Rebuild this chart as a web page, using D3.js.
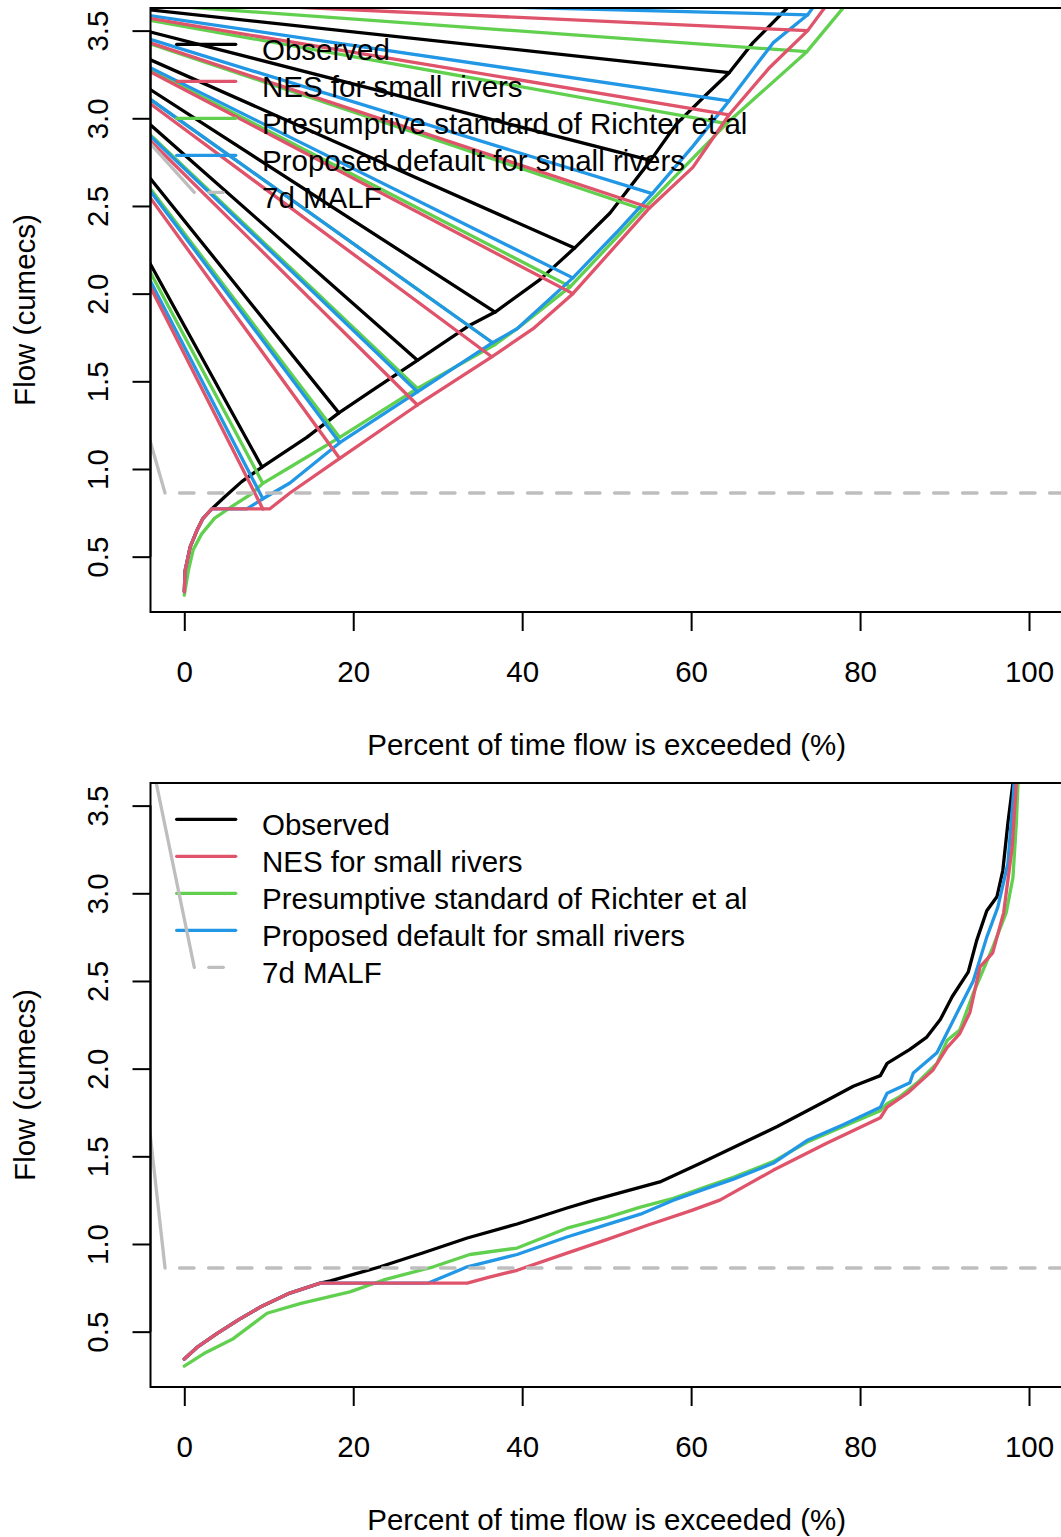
<!DOCTYPE html>
<html><head><meta charset="utf-8">
<script src="https://cdn.jsdelivr.net/npm/d3@7"></script>
<style>
html,body{margin:0;padding:0;background:#fff;}
svg{display:block;}
text{font-family:"Liberation Sans",Arial,Helvetica,sans-serif;fill:#000;}
</style>
</head><body>
<svg id="chart" width="1061" height="1537"></svg>
<script>
// ---------------- data ----------------
const xTicks = [0, 20, 40, 60, 80, 100];
const yTicks = [0.5, 1.0, 1.5, 2.0, 2.5, 3.0, 3.5];
const yTickLabels = ["0.5", "1.0", "1.5", "2.0", "2.5", "3.0", "3.5"];
const seriesNames = ["Observed", "NES for small rivers", "Presumptive standard of Richter et al", "Proposed default for small rivers", "7d MALF"];
const seriesColors = ["#000000", "#DF536B", "#61D04F", "#2297E6", "#BEBEBE"];
const xTitle = "Percent of time flow is exceeded (%)";
const yTitle = "Flow (cumecs)";
const malf = 0.863;
const spokeHub = [-21.6, 3.71];

// top panel curves
const topObserved = [[0,0.30],[0.1,0.42],[0.7,0.556],[1.5,0.65],[2.2,0.717],[3.25,0.772],[4.8,0.842],[6.8,0.928],[9.2,1.011],[14.5,1.18],[18.3,1.32],[22.3,1.45],[27.6,1.62],[33.8,1.82],[36.8,1.895],[42.1,2.08],[46.2,2.26],[50.4,2.46],[55.2,2.76],[58.3,2.97],[61.9,3.14],[64.5,3.26],[67.3,3.43],[71.4,3.63],[72.0,3.68]];
const topNES = [[0,0.30],[0.1,0.42],[0.7,0.556],[1.5,0.65],[2.2,0.717],[3.25,0.772],[10.1,0.772],[12.5,0.863],[18.4,1.06],[27.6,1.365],[36.4,1.64],[41.3,1.80],[46.0,2.00],[55.1,2.49],[60.2,2.72],[64.5,3.02],[69.3,3.29],[73.8,3.50],[75.8,3.63],[76.5,3.68]];
const topRichter = [[0,0.28],[0.5,0.425],[1.06,0.54],[2.06,0.63],[3.6,0.72],[5.6,0.785],[8.0,0.86],[9.3,0.918],[12.5,1.01],[18.4,1.18],[27.6,1.46],[36.8,1.71],[39.4,1.80],[45.7,2.04],[54.3,2.48],[64.2,2.97],[73.7,3.38],[78.0,3.63],[78.5,3.67]];
const topProposed = [[0,0.30],[0.1,0.42],[0.7,0.556],[1.5,0.65],[2.2,0.717],[3.25,0.772],[7.4,0.772],[9.3,0.83],[12.5,0.92],[18.4,1.15],[27.6,1.44],[36.5,1.72],[39.4,1.80],[46.0,2.09],[51.2,2.35],[55.4,2.57],[60.2,2.84],[64.5,3.10],[69.7,3.43],[73.8,3.59],[74.4,3.63],[75.0,3.68]];

// top panel spoke points (joined to the hub)
const topObservedSpokes = [[9.2,1.011],[18.3,1.32],[27.6,1.62],[36.8,1.895],[46.2,2.26],[55.2,2.76],[64.5,3.26]];
const topNESSpokes = [[9.3,0.772],[18.4,1.06],[27.6,1.365],[36.4,1.64],[46.0,2.00],[55.1,2.49],[64.5,3.02],[73.8,3.50]];
const topRichterSpokes = [[9.3,0.918],[18.4,1.18],[27.6,1.46],[36.8,1.71],[45.7,2.04],[54.3,2.48],[64.2,2.97],[73.7,3.38]];
const topProposedSpokes = [[9.3,0.83],[18.4,1.15],[27.6,1.44],[36.5,1.72],[46.0,2.09],[55.4,2.57],[64.5,3.10],[73.8,3.59]];

// bottom panel curves
const botObserved = [[0,0.344],[1.5,0.41],[3.9,0.49],[6.5,0.57],[9.0,0.64],[12.5,0.72],[16.1,0.777],[17.3,0.79],[23.2,0.87],[28.3,0.95],[33.5,1.034],[39.4,1.114],[45.3,1.205],[48.4,1.25],[56.3,1.354],[61.1,1.46],[65.0,1.55],[70.2,1.67],[76.1,1.82],[79.2,1.90],[82.4,1.96],[83.2,2.03],[85.9,2.11],[87.9,2.18],[89.5,2.28],[90.9,2.41],[92.8,2.55],[93.8,2.73],[95.0,2.90],[96.2,2.98],[96.9,3.13],[97.5,3.40],[98.1,3.63],[98.2,3.68]];
const botNES = [[0,0.344],[1.5,0.41],[3.9,0.49],[6.5,0.57],[9.0,0.64],[12.5,0.72],[16.1,0.777],[33.5,0.777],[36.0,0.81],[39.4,0.85],[45.3,0.948],[50,1.025],[55,1.11],[60,1.19],[63.4,1.25],[69.7,1.42],[76.1,1.576],[82.4,1.72],[83.2,1.78],[85.6,1.86],[88.6,1.99],[90.3,2.12],[91.8,2.20],[93.0,2.32],[94.2,2.58],[95.7,2.66],[97.0,2.89],[98.0,3.26],[98.5,3.63],[98.6,3.68]];
const botRichter = [[0,0.304],[2.5,0.38],[5.8,0.46],[9.8,0.605],[13.7,0.66],[19.6,0.727],[23.6,0.795],[29.5,0.87],[33.8,0.94],[39.4,0.977],[45.3,1.09],[50,1.15],[54,1.21],[57.9,1.26],[62,1.33],[65,1.38],[69.7,1.47],[73.7,1.58],[78,1.67],[82.4,1.76],[83.2,1.80],[84.7,1.84],[87,1.93],[89.1,2.03],[90.3,2.16],[91.8,2.22],[93.4,2.43],[95.7,2.69],[97.3,2.89],[98.1,3.09],[98.5,3.40],[98.7,3.63],[98.8,3.68]];
const botProposed = [[0,0.344],[1.5,0.41],[3.9,0.49],[6.5,0.57],[9.0,0.64],[12.5,0.72],[16.1,0.777],[28.9,0.777],[33.5,0.87],[39.4,0.94],[45.3,1.04],[50,1.11],[54,1.17],[57.9,1.25],[62,1.32],[65,1.37],[69.7,1.46],[73.7,1.59],[78,1.68],[82.4,1.78],[83.2,1.86],[85.9,1.92],[86.3,1.975],[89.1,2.09],[91.5,2.32],[93.4,2.50],[95.0,2.75],[96.3,2.92],[97.5,3.17],[98.1,3.53],[98.3,3.68]];

// MALF lead-in segments (from off-plot to the start of the MALF line)
const topMalfLead = [[-6.43,1.562],[-2.28,0.863]];
const botMalfLead = [[-6.43,2.66],[-2.28,0.863]];
const malfStartX = -2.28;

// ---------------- layout ----------------
const W = 1061, H = 1537;
const plotLeft = 150.5, plotRight = 1062.8, plotTop = 8, plotBottom = 612;
const panelOffsets = [0, 775];
const fontSize = 29.5;
const lineW = 3.3;
const legendLeadSlope = [1.106, 4.84];

const svg = d3.select("#chart");
svg.append("rect").attr("width", W).attr("height", H).attr("fill", "#fff");

const x = d3.scaleLinear().domain([-4, 104]).range([plotLeft, plotRight]);

function drawPanel(pi, curves, spokes, malfLead) {
  const off = panelOffsets[pi];
  const y = d3.scaleLinear().domain([0.1844, 3.629]).range([plotBottom + off, plotTop + off]);
  const g = svg.append("g");
  const clipId = "clip" + pi;
  svg.append("clipPath").attr("id", clipId).append("rect")
    .attr("x", plotLeft).attr("y", plotTop + off)
    .attr("width", plotRight - plotLeft).attr("height", plotBottom - plotTop);
  const pg = g.append("g").attr("clip-path", `url(#${clipId})`);
  const line = d3.line().x(d => x(d[0])).y(d => y(d[1]));

  // draw order: Observed, Richter, Proposed, NES
  const order = [0, 2, 3, 1];
  order.forEach(si => {
    const c = seriesColors[si];
    if (spokes) {
      spokes[si].forEach(p => {
        pg.append("path").attr("d", line([spokeHub, p]))
          .attr("fill", "none").attr("stroke", c).attr("stroke-width", lineW)
          .attr("stroke-linecap", "round");
      });
    }
    pg.append("path").attr("d", line(curves[si]))
      .attr("fill", "none").attr("stroke", c).attr("stroke-width", lineW)
      .attr("stroke-linejoin", "round").attr("stroke-linecap", "round");
  });

  // MALF
  pg.append("path").attr("d", line(malfLead))
    .attr("fill", "none").attr("stroke", seriesColors[4]).attr("stroke-width", lineW)
    .attr("stroke-linecap", "round");
  pg.append("path").attr("d", line([[malfStartX, malf], [104, malf]]))
    .attr("fill", "none").attr("stroke", seriesColors[4]).attr("stroke-width", lineW)
    .attr("stroke-linecap", "round")
    .attr("stroke-dasharray", "14.5 14.5").attr("stroke-dashoffset", 14.5);

  // legend
  const lx0 = 176.7, lx1 = 235.7, ltx = 262, ly0 = 44.3 + off, lstep = 37;
  seriesNames.forEach((name, i) => {
    const ly = ly0 + i * lstep;
    if (i < 4) {
      pg.append("line").attr("x1", lx0).attr("x2", lx1).attr("y1", ly).attr("y2", ly)
        .attr("stroke", seriesColors[i]).attr("stroke-width", lineW).attr("stroke-linecap", "round");
    } else {
      const cx = 194.3, s = legendLeadSlope[pi];
      pg.append("line").attr("x1", cx - 100).attr("y1", ly - s * 100).attr("x2", cx).attr("y2", ly)
        .attr("stroke", seriesColors[4]).attr("stroke-width", lineW).attr("stroke-linecap", "round");
      pg.append("line").attr("x1", cx).attr("x2", lx1).attr("y1", ly).attr("y2", ly)
        .attr("stroke", seriesColors[4]).attr("stroke-width", lineW).attr("stroke-linecap", "round")
        .attr("stroke-dasharray", "14.5 14.5").attr("stroke-dashoffset", 14.5);
    }
    g.append("text").attr("x", ltx).attr("y", ly + 15.7).attr("font-size", fontSize).text(name);
  });

  // box
  g.append("rect").attr("x", plotLeft).attr("y", plotTop + off)
    .attr("width", plotRight - plotLeft).attr("height", plotBottom - plotTop)
    .attr("fill", "none").attr("stroke", "#000").attr("stroke-width", 2);

  // x axis
  const xa = g.append("g").attr("transform", `translate(0,${plotBottom + off})`)
    .call(d3.axisBottom(x).tickValues(xTicks).tickSize(19).tickPadding(0).tickFormat(d3.format("d")));
  xa.select(".domain").attr("d", `M${x(0)},0H${x(100)}`).attr("stroke-width", 2);
  xa.selectAll(".tick line").attr("stroke-width", 2);
  xa.selectAll(".tick text").attr("y", 70).attr("dy", 0).attr("font-size", fontSize)
    .attr("font-family", '"Liberation Sans",Arial,sans-serif').attr("fill", "#000");

  // y axis
  const ya = g.append("g").attr("transform", `translate(${plotLeft},0)`)
    .call(d3.axisLeft(y).tickValues(yTicks).tickSize(18).tickFormat((d, i) => yTickLabels[i]));
  ya.select(".domain").attr("d", `M0,${y(0.5)}V${y(3.5)}`).attr("stroke-width", 2);
  ya.selectAll(".tick line").attr("stroke-width", 2);
  ya.selectAll(".tick text")
    .attr("x", null).attr("dy", null).attr("y", null)
    .attr("transform", `translate(${108 - plotLeft},0) rotate(-90)`)
    .attr("text-anchor", "middle").attr("font-size", fontSize)
    .attr("font-family", '"Liberation Sans",Arial,sans-serif').attr("fill", "#000");

  // titles
  g.append("text").attr("x", (plotLeft + plotRight) / 2).attr("y", 755 + off)
    .attr("text-anchor", "middle").attr("font-size", fontSize).text(xTitle);
  g.append("text").attr("transform", `translate(35,${(plotTop + plotBottom) / 2 + off}) rotate(-90)`)
    .attr("text-anchor", "middle").attr("font-size", fontSize).text(yTitle);
}

drawPanel(0, [topObserved, topNES, topRichter, topProposed],
  [topObservedSpokes, topNESSpokes, topRichterSpokes, topProposedSpokes], topMalfLead);
drawPanel(1, [botObserved, botNES, botRichter, botProposed], null, botMalfLead);
</script>
</body></html>
